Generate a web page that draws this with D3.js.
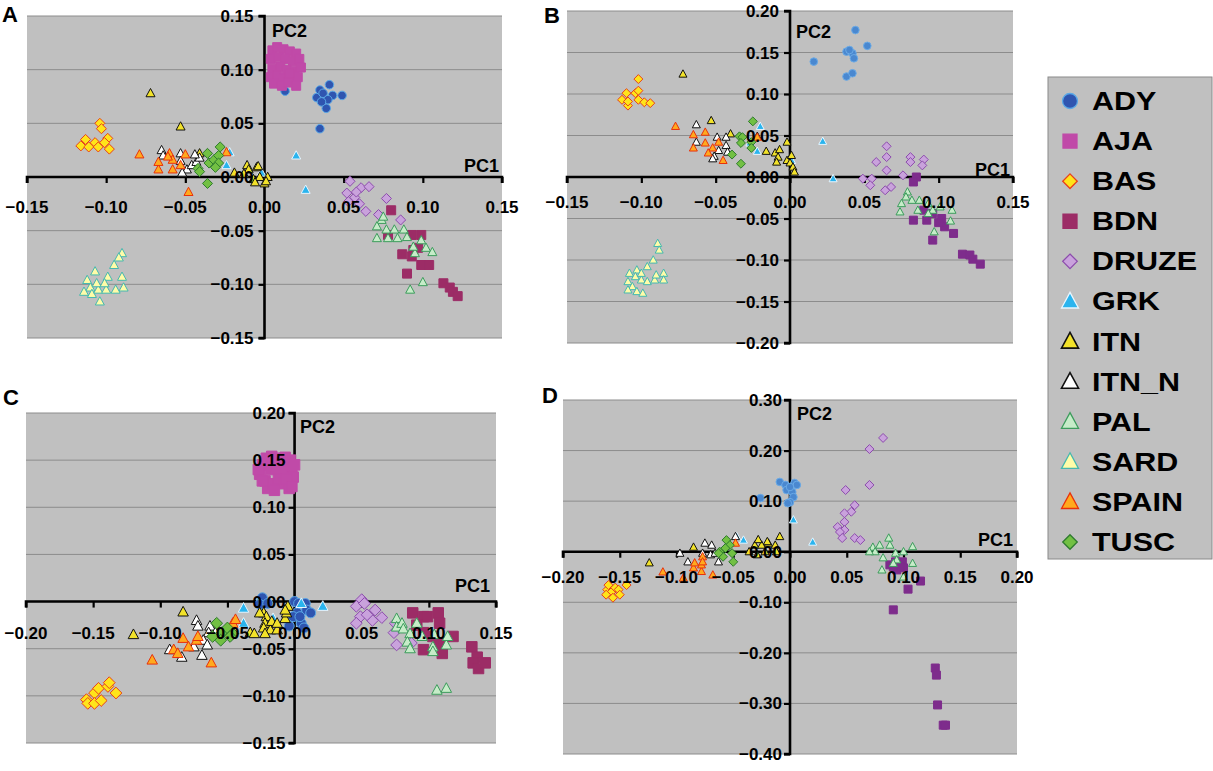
<!DOCTYPE html>
<html><head><meta charset="utf-8">
<script src="https://cdn.jsdelivr.net/npm/d3@7"></script>
<style>
html,body{margin:0;padding:0;background:#fff;}
svg{display:block;font-family:"Liberation Sans",Arial,Helvetica,sans-serif;}
</style></head>
<body>
<svg id="c" width="1213" height="771"></svg>
<script>
// ---------------- DATA ----------------
const categories = ["ADY","AJA","BAS","BDN","DRUZE","GRK","ITN","ITN_N","PAL","SARD","SPAIN","TUSC"];
const panels = ["A","B","C","D"];

const xTicksA = [-0.15,-0.10,-0.05,0.00,0.05,0.10,0.15];
const yTicksA = [-0.15,-0.10,-0.05,0.00,0.05,0.10,0.15];
const xTicksB = [-0.15,-0.10,-0.05,0.00,0.05,0.10,0.15];
const yTicksB = [-0.20,-0.15,-0.10,-0.05,0.00,0.05,0.10,0.15,0.20];
const xTicksC = [-0.20,-0.15,-0.10,-0.05,0.00,0.05,0.10,0.15];
const yTicksC = [-0.15,-0.10,-0.05,0.00,0.05,0.10,0.15,0.20];
const xTicksD = [-0.20,-0.15,-0.10,-0.05,0.00,0.05,0.10,0.15,0.20];
const yTicksD = [-0.40,-0.30,-0.20,-0.10,0.00,0.10,0.20,0.30];

// Panel A
const A_ADY = [[0.013,0.080],[0.033,0.074],[0.035,0.081],[0.037,0.078],[0.041,0.086],[0.043,0.076],[0.049,0.076],[0.040,0.072],[0.039,0.064],[0.035,0.045],[0.036,0.070]];
const A_AJA = [[0.005,0.118],[0.008,0.121],[0.012,0.119],[0.016,0.117],[0.020,0.115],[0.004,0.110],[0.009,0.112],[0.013,0.110],[0.018,0.108],[0.022,0.110],[0.005,0.101],[0.010,0.103],[0.014,0.100],[0.019,0.099],[0.023,0.102],[0.004,0.093],[0.008,0.095],[0.012,0.092],[0.017,0.090],[0.021,0.093],[0.006,0.087],[0.011,0.085],[0.015,0.088],[0.020,0.085],[0.016,0.096]];
const A_BAS = [[-0.104,0.050],[-0.103,0.045],[-0.113,0.035],[-0.116,0.029],[-0.111,0.028],[-0.107,0.032],[-0.105,0.028],[-0.099,0.036],[-0.101,0.032],[-0.098,0.026]];
const A_BDN = [[0.080,-0.031],[0.078,-0.054],[0.093,-0.054],[0.099,-0.054],[0.087,-0.072],[0.094,-0.068],[0.099,-0.082],[0.104,-0.082],[0.090,-0.090],[0.113,-0.099],[0.117,-0.103],[0.119,-0.107],[0.122,-0.111],[0.097,-0.066],[0.093,-0.074]];
const A_DRUZE = [[0.054,-0.004],[0.052,-0.015],[0.061,-0.010],[0.066,-0.009],[0.057,-0.019],[0.060,-0.025],[0.064,-0.032],[0.077,-0.020],[0.072,-0.035],[0.086,-0.040],[0.053,-0.023],[0.058,-0.014]];
const A_GRK = [[0.020,0.020],[0.026,-0.012],[-0.022,0.023],[-0.024,0.011],[-0.002,0.004]];
const A_ITN = [[-0.072,0.078],[-0.053,0.047],[-0.041,0.022],[-0.011,0.011],[-0.010,0.007],[-0.013,0.003],[-0.007,-0.002],[-0.005,0.009],[-0.003,0.000],[0.000,-0.006],[0.002,0.000],[-0.006,-0.005],[-0.019,0.004],[-0.004,0.010],[0.001,-0.004]];
const A_ITN_N = [[-0.065,0.025],[-0.064,0.020],[-0.053,0.022],[-0.053,0.015],[-0.049,0.007],[-0.046,0.011],[-0.043,0.014],[-0.041,0.018],[-0.052,0.004],[-0.044,0.021]];
const A_PAL = [[0.074,-0.040],[0.071,-0.046],[0.071,-0.057],[0.077,-0.049],[0.078,-0.057],[0.082,-0.049],[0.084,-0.057],[0.088,-0.049],[0.090,-0.056],[0.095,-0.071],[0.094,-0.065],[0.099,-0.059],[0.102,-0.066],[0.106,-0.070],[0.092,-0.105],[0.100,-0.098],[0.075,-0.037]];
const A_SARD = [[-0.090,-0.071],[-0.092,-0.075],[-0.095,-0.082],[-0.099,-0.093],[-0.107,-0.088],[-0.112,-0.096],[-0.110,-0.103],[-0.114,-0.107],[-0.109,-0.109],[-0.105,-0.105],[-0.104,-0.116],[-0.100,-0.105],[-0.094,-0.105],[-0.090,-0.093],[-0.089,-0.103],[-0.106,-0.099],[-0.101,-0.099]];
const A_SPAIN = [[-0.079,0.021],[-0.067,0.007],[-0.067,0.014],[-0.060,0.022],[-0.058,0.016],[-0.058,0.007],[-0.053,0.011],[-0.050,0.021],[-0.048,-0.014],[-0.024,0.023],[-0.061,0.019]];
const A_TUSC = [[-0.036,0.022],[-0.035,0.013],[-0.042,0.008],[-0.032,0.016],[-0.029,0.020],[-0.028,0.028],[-0.029,0.013],[-0.036,-0.006],[-0.041,0.005],[-0.031,0.009]];

// Panel B
const B_ADY = [[0.016,0.139],[0.044,0.177],[0.052,0.158],[0.038,0.151],[0.042,0.149],[0.043,0.143],[0.040,0.153],[0.038,0.121],[0.042,0.125]];
const B_AJA = [];
const B_BAS = [[-0.102,0.118],[-0.110,0.101],[-0.113,0.093],[-0.109,0.086],[-0.104,0.101],[-0.102,0.104],[-0.102,0.093],[-0.098,0.090],[-0.094,0.089],[-0.109,0.091]];
const B_BDN = [[0.085,0.000],[0.083,-0.006],[0.083,-0.052],[0.090,-0.040],[0.092,-0.052],[0.096,-0.044],[0.102,-0.050],[0.104,-0.060],[0.110,-0.068],[0.096,-0.076],[0.116,-0.093],[0.121,-0.094],[0.123,-0.099],[0.128,-0.105],[0.100,-0.055]];
const B_DRUZE = [[0.065,0.037],[0.058,0.018],[0.065,0.024],[0.081,0.024],[0.090,0.021],[0.089,0.014],[0.081,0.018],[0.065,0.008],[0.049,-0.002],[0.055,-0.002],[0.054,-0.010],[0.068,-0.012],[0.064,-0.016],[0.076,0.002]];
const B_GRK = [[-0.020,0.061],[-0.027,0.041],[-0.022,0.031],[0.001,0.020],[0.022,0.043],[0.029,-0.002]];
const B_ITN = [[-0.072,0.124],[-0.053,0.068],[-0.040,0.052],[-0.016,0.031],[-0.010,0.029],[-0.008,0.024],[-0.009,0.018],[-0.007,0.033],[-0.002,0.042],[-0.002,0.020],[0.000,0.017],[0.002,0.012],[0.003,0.006],[0.001,0.026],[-0.022,0.049]];
const B_ITN_N = [[-0.063,0.063],[-0.063,0.042],[-0.049,0.048],[-0.043,0.048],[-0.043,0.038],[-0.048,0.032],[-0.051,0.025],[-0.042,0.030],[-0.052,0.022]];
const B_PAL = [[0.079,-0.018],[0.078,-0.024],[0.075,-0.032],[0.082,-0.028],[0.074,-0.042],[0.086,-0.040],[0.087,-0.028],[0.093,-0.032],[0.096,-0.040],[0.101,-0.036],[0.109,-0.040],[0.108,-0.053],[0.097,-0.066],[0.093,-0.044]];
const B_SARD = [[-0.089,-0.080],[-0.088,-0.088],[-0.092,-0.100],[-0.096,-0.108],[-0.103,-0.112],[-0.108,-0.116],[-0.104,-0.120],[-0.109,-0.126],[-0.106,-0.132],[-0.109,-0.136],[-0.103,-0.138],[-0.099,-0.140],[-0.100,-0.124],[-0.096,-0.126],[-0.091,-0.124],[-0.090,-0.118],[-0.085,-0.116],[-0.085,-0.124],[-0.100,-0.116]];
const B_SPAIN = [[-0.077,0.061],[-0.065,0.051],[-0.065,0.035],[-0.057,0.054],[-0.057,0.041],[-0.052,0.035],[-0.055,0.029],[-0.048,0.042],[-0.045,0.020],[-0.022,0.048]];
const B_TUSC = [[-0.025,0.067],[-0.034,0.049],[-0.032,0.048],[-0.033,0.041],[-0.026,0.042],[-0.026,0.035],[-0.039,0.027],[-0.033,0.016]];

// Panel C
const C_ADY = [[-0.024,0.004],[-0.026,-0.003],[-0.020,-0.002],[0.000,0.000],[0.003,-0.002],[0.008,-0.002],[0.002,-0.012],[0.009,-0.009],[0.012,-0.012],[-0.001,-0.016],[0.005,-0.023],[0.007,-0.028],[-0.004,-0.026],[0.004,-0.016]];
const C_AJA = [[-0.026,0.135],[-0.024,0.145],[-0.021,0.152],[-0.017,0.154],[-0.012,0.152],[-0.007,0.153],[-0.003,0.150],[-0.022,0.128],[-0.018,0.140],[-0.014,0.143],[-0.010,0.140],[-0.005,0.138],[-0.002,0.140],[-0.020,0.120],[-0.016,0.125],[-0.012,0.130],[-0.008,0.125],[-0.004,0.120],[-0.001,0.132],[-0.024,0.128],[-0.006,0.130],[-0.015,0.118],[-0.027,0.140],[0.000,0.145],[-0.002,0.122]];
const C_BAS = [[-0.155,-0.104],[-0.154,-0.108],[-0.149,-0.097],[-0.146,-0.092],[-0.149,-0.108],[-0.144,-0.105],[-0.139,-0.090],[-0.138,-0.086],[-0.133,-0.097]];
const C_BDN = [[0.088,-0.012],[0.096,-0.016],[0.099,-0.016],[0.107,-0.012],[0.108,-0.023],[0.096,-0.033],[0.096,-0.051],[0.103,-0.037],[0.108,-0.044],[0.110,-0.055],[0.118,-0.037],[0.132,-0.048],[0.136,-0.059],[0.133,-0.065],[0.137,-0.071],[0.142,-0.065],[0.091,-0.025]];
const C_DRUZE = [[0.050,0.002],[0.046,-0.005],[0.052,-0.002],[0.060,-0.009],[0.049,-0.016],[0.058,-0.020],[0.065,-0.017],[0.046,-0.023],[0.054,-0.014],[0.075,-0.023],[0.074,-0.033],[0.076,-0.046],[0.087,-0.044]];
const C_GRK = [[-0.038,-0.007],[-0.038,-0.023],[-0.016,-0.018],[0.005,-0.002],[0.021,-0.005]];
const C_ITN = [[-0.083,-0.011],[-0.120,-0.035],[-0.033,-0.033],[-0.023,-0.012],[-0.021,-0.016],[-0.022,-0.023],[-0.023,-0.028],[-0.018,-0.030],[-0.017,-0.021],[-0.030,-0.034],[-0.013,-0.030],[-0.007,-0.018],[-0.006,-0.012],[-0.005,-0.005],[-0.022,-0.034],[-0.007,-0.009],[-0.026,-0.012],[-0.013,-0.023]];
const C_ITN_N = [[-0.073,-0.020],[-0.072,-0.026],[-0.063,-0.026],[-0.064,-0.033],[-0.068,-0.041],[-0.065,-0.046],[-0.069,-0.057],[-0.084,-0.059],[-0.093,-0.051],[-0.075,-0.048],[-0.059,-0.033]];
const C_PAL = [[0.076,-0.018],[0.076,-0.027],[0.080,-0.023],[0.081,-0.029],[0.086,-0.034],[0.091,-0.023],[0.084,-0.043],[0.086,-0.050],[0.095,-0.037],[0.103,-0.048],[0.104,-0.035],[0.113,-0.046],[0.106,-0.094],[0.113,-0.092],[0.114,-0.037],[0.103,-0.053]];
const C_SARD = [];
const C_SPAIN = [[-0.106,-0.062],[-0.062,-0.065],[-0.090,-0.051],[-0.087,-0.055],[-0.083,-0.039],[-0.079,-0.048],[-0.073,-0.041],[-0.072,-0.037],[-0.046,-0.023],[-0.044,-0.019]];
const C_TUSC = [[-0.058,-0.023],[-0.054,-0.033],[-0.061,-0.037],[-0.050,-0.028],[-0.046,-0.034],[-0.048,-0.037],[-0.055,-0.041]];

// Panel D
const D_ADY = [[-0.009,0.138],[-0.004,0.132],[0.004,0.136],[0.006,0.132],[-0.003,0.122],[0.002,0.118],[0.003,0.108],[0.000,0.098],[-0.002,0.096],[-0.026,0.106],[0.000,0.128]];
const D_AJA = [];
const D_BAS = [[-0.161,-0.075],[-0.160,-0.066],[-0.157,-0.079],[-0.156,-0.091],[-0.154,-0.071],[-0.151,-0.075],[-0.150,-0.085],[-0.144,-0.066],[-0.162,-0.085]];
const D_BDN = [[0.088,-0.026],[0.093,-0.020],[0.099,-0.020],[0.094,-0.036],[0.100,-0.032],[0.115,-0.058],[0.104,-0.074],[0.091,-0.115],[0.128,-0.230],[0.129,-0.244],[0.130,-0.303],[0.135,-0.343],[0.137,-0.343],[0.097,-0.030],[0.091,-0.030]];
const D_DRUZE = [[0.082,0.225],[0.070,0.203],[0.070,0.132],[0.049,0.122],[0.057,0.092],[0.054,0.079],[0.048,0.076],[0.048,0.059],[0.042,0.049],[0.048,0.043],[0.044,0.039],[0.046,0.027],[0.057,0.027],[0.062,0.023]];
const D_GRK = [[0.003,0.063],[0.020,0.019],[-0.047,0.030],[-0.041,0.023]];
const D_ITN = [[-0.124,-0.022],[-0.085,0.009],[-0.036,0.000],[-0.031,0.013],[-0.029,-0.006],[-0.025,0.013],[-0.022,0.000],[-0.019,0.017],[-0.013,0.013],[-0.012,0.000],[-0.009,0.030],[-0.028,0.024],[-0.020,0.020]];
const D_ITN_N = [[-0.097,-0.003],[-0.090,-0.020],[-0.075,0.017],[-0.069,0.013],[-0.077,-0.003],[-0.070,-0.006],[-0.066,-0.003],[-0.063,-0.020],[-0.048,0.030]];
const D_PAL = [[0.073,0.009],[0.075,0.000],[0.079,0.013],[0.087,0.027],[0.088,0.013],[0.093,-0.003],[0.100,0.000],[0.108,0.010],[0.094,-0.016],[0.082,-0.012],[0.081,-0.036],[0.091,-0.023],[0.108,-0.023],[0.070,0.000],[0.100,-0.050]];
const D_SARD = [];
const D_SPAIN = [[-0.085,-0.032],[-0.078,-0.039],[-0.078,-0.026],[-0.077,-0.010],[-0.077,-0.020],[-0.068,-0.046],[-0.084,-0.022],[-0.048,0.017],[-0.112,-0.040],[-0.094,-0.052]];
const D_TUSC = [[-0.056,0.023],[-0.053,0.013],[-0.062,0.000],[-0.059,-0.010],[-0.051,-0.003],[-0.050,-0.020],[-0.057,0.007],[-0.063,-0.003]];

// ---------------- STYLE ----------------
const styles = {
  ADY:  {shape:"circle",   fill:"#2f55b0", stroke:"#5aa8e6"},
  AJA:  {shape:"square",   fill:"#c04aa8", stroke:"#c04aa8"},
  BAS:  {shape:"diamond",  fill:"#ffe41a", stroke:"#e8401a"},
  BDN:  {shape:"square",   fill:"#9c2c66", stroke:"#9c2c66"},
  DRUZE:{shape:"diamond",  fill:"#c9a2dc", stroke:"#8c4cac"},
  GRK:  {shape:"triangle", fill:"#2ab4ee", stroke:"#e8f6ff"},
  ITN:  {shape:"triangle", fill:"#f2e22a", stroke:"#111111"},
  ITN_N:{shape:"triangle", fill:"#ffffff", stroke:"#111111"},
  PAL:  {shape:"triangle", fill:"#c6ecc8", stroke:"#3c9c5c"},
  SARD: {shape:"triangle", fill:"#fffca8", stroke:"#44b8b0"},
  SPAIN:{shape:"triangle", fill:"#ffaa1e", stroke:"#e8300c"},
  TUSC: {shape:"diamond",  fill:"#72c043", stroke:"#2e7a2e"}
};
const panelOverrides = {
  B:{ADY:{fill:"#4a88d0", stroke:"#6aaae6"}, BDN:{fill:"#7e2c8c", stroke:"#7e2c8c"}},
  D:{ADY:{fill:"#4a88d0", stroke:"#6aaae6"}, BDN:{fill:"#7e2c8c", stroke:"#7e2c8c"}}
};

function shapePath(shape, s){
  const h = s/2;
  if(shape==="circle"){
    return `M${h},0A${h},${h},0,1,1,${-h},0A${h},${h},0,1,1,${h},0Z`;
  }
  if(shape==="square") return `M${-h},${-h}H${h}V${h}H${-h}Z`;
  if(shape==="diamond"){ const d=h*1.12; return `M0,${-d}L${d},0L0,${d}L${-d},0Z`; }
  const th = s*0.92;
  return `M0,${-th*0.58}L${h},${th*0.42}L${-h},${th*0.42}Z`;
}

const dataSets = {
  A:{ADY:A_ADY,AJA:A_AJA,BAS:A_BAS,BDN:A_BDN,DRUZE:A_DRUZE,GRK:A_GRK,ITN:A_ITN,ITN_N:A_ITN_N,PAL:A_PAL,SARD:A_SARD,SPAIN:A_SPAIN,TUSC:A_TUSC},
  B:{ADY:B_ADY,AJA:B_AJA,BAS:B_BAS,BDN:B_BDN,DRUZE:B_DRUZE,GRK:B_GRK,ITN:B_ITN,ITN_N:B_ITN_N,PAL:B_PAL,SARD:B_SARD,SPAIN:B_SPAIN,TUSC:B_TUSC},
  C:{ADY:C_ADY,AJA:C_AJA,BAS:C_BAS,BDN:C_BDN,DRUZE:C_DRUZE,GRK:C_GRK,ITN:C_ITN,ITN_N:C_ITN_N,PAL:C_PAL,SARD:C_SARD,SPAIN:C_SPAIN,TUSC:C_TUSC},
  D:{ADY:D_ADY,AJA:D_AJA,BAS:D_BAS,BDN:D_BDN,DRUZE:D_DRUZE,GRK:D_GRK,ITN:D_ITN,ITN_N:D_ITN_N,PAL:D_PAL,SARD:D_SARD,SPAIN:D_SPAIN,TUSC:D_TUSC}
};

const layout = {
  A:{x0:27,x1:502,y0:16,y1:338,xd:[-0.15,0.15],yd:[-0.15,0.15],xt:xTicksA,yt:yTicksA,xlab:36,ylab:11,ms:9,
     letter:[2,22],pc2:[272,37],pc1:[499,172]},
  B:{x0:567,x1:1013,y0:11,y1:343,xd:[-0.15,0.15],yd:[-0.20,0.20],xt:xTicksB,yt:yTicksB,xlab:31,ylab:11,ms:8,
     letter:[544,23],pc2:[796,38],pc1:[1010,176]},
  C:{x0:26,x1:496,y0:413,y1:743,xd:[-0.20,0.15],yd:[-0.15,0.20],xt:xTicksC,yt:yTicksC,xlab:37,ylab:9,ms:10.5,
     letter:[3,405],pc2:[300,433],pc1:[490,592]},
  D:{x0:563,x1:1017,y0:400,y1:754,xd:[-0.20,0.20],yd:[-0.40,0.30],xt:xTicksD,yt:yTicksD,xlab:31,ylab:8,ms:8,
     letter:[542,403],pc2:[797,420],pc1:[1013,546]}
};

const svg = d3.select("#c");
const fmt = d3.format(".2f");
const fontTick = "bold 17px 'Liberation Sans', Arial, sans-serif";

panels.forEach(p=>{
  const L = layout[p];
  const x = d3.scaleLinear().domain(L.xd).range([L.x0,L.x1]);
  const y = d3.scaleLinear().domain(L.yd).range([L.y1,L.y0]);
  const g = svg.append("g");
  g.append("rect").attr("x",L.x0).attr("y",L.y0).attr("width",L.x1-L.x0).attr("height",L.y1-L.y0)
    .attr("fill","#c0c0c0");
  g.selectAll("line.grid").data(L.yt.filter(v=>Math.abs(v)>1e-9)).join("line")
    .attr("x1",L.x0).attr("x2",L.x1).attr("y1",d=>y(d)).attr("y2",d=>y(d))
    .attr("stroke","#8c8c8c").attr("stroke-width",1);
  const xAxis = d3.axisBottom(x).tickValues(L.xt).tickSize(6).tickFormat("");
  const yAxis = d3.axisLeft(y).tickValues(L.yt).tickSize(6).tickFormat("");
  const ga = g.append("g").attr("transform",`translate(0,${y(0)})`).call(xAxis);
  const gb = g.append("g").attr("transform",`translate(${x(0)},0)`).call(yAxis);
  [ga,gb].forEach(a=>{
    a.select(".domain").attr("stroke","#000").attr("stroke-width",2.6);
    a.selectAll(".tick line").attr("stroke","#000").attr("stroke-width",2.2);
  });
  ga.select(".domain").attr("d",`M${L.x0},6V0H${L.x1}V6`);
  gb.select(".domain").attr("d",`M-6,${L.y1}H0V${L.y0}H-6`);

  const ov = panelOverrides[p]||{};
  categories.forEach(cat=>{
    const st = Object.assign({}, styles[cat], ov[cat]||{});
    const pts = dataSets[p][cat];
    g.append("g").selectAll("path").data(pts).join("path")
      .attr("d",shapePath(st.shape, st.shape==="circle"?L.ms*0.95:L.ms))
      .attr("transform",d=>`translate(${x(d[0])},${y(d[1])})`)
      .attr("fill",st.fill).attr("stroke",st.stroke).attr("stroke-width",1);
  });

  g.selectAll("text.xl").data(L.xt).join("text")
    .attr("x",d=>x(d)).attr("y",y(0)+L.xlab).attr("text-anchor","middle")
    .style("font",fontTick).attr("fill","#000").text(d=>fmt(d));
  g.selectAll("text.yl").data(L.yt).join("text")
    .attr("x",x(0)-L.ylab).attr("y",d=>y(d)+6).attr("text-anchor","end")
    .style("font",fontTick).attr("fill","#000").text(d=>fmt(d));

  g.append("text").attr("x",L.pc2[0]).attr("y",L.pc2[1]).style("font","bold 18px 'Liberation Sans', Arial, sans-serif").text("PC2");
  g.append("text").attr("x",L.pc1[0]).attr("y",L.pc1[1]).attr("text-anchor","end").style("font","bold 18px 'Liberation Sans', Arial, sans-serif").text("PC1");
  g.append("text").attr("x",L.letter[0]).attr("y",L.letter[1]).style("font","bold 22px 'Liberation Sans', Arial, sans-serif").text(p);
});

const lg = svg.append("g");
lg.append("rect").attr("x",1048).attr("y",77).attr("width",164).attr("height",482)
  .attr("fill","#c0c0c0").attr("stroke","#8a8a8a").attr("stroke-width",1);
const ly = d3.scalePoint().domain(categories).range([101,542]);
categories.forEach(cat=>{
  const st = styles[cat];
  const size = st.shape==="circle"?15:st.shape==="square"?14:st.shape==="diamond"?13:17;
  lg.append("path").attr("d",shapePath(st.shape,size))
    .attr("transform",`translate(1070,${ly(cat)})`)
    .attr("fill",st.fill).attr("stroke",st.stroke).attr("stroke-width",cat==="ITN_N"||cat==="ITN"?1.6:1.3);
  lg.append("text").attr("transform",`translate(1092,${ly(cat)+9}) scale(1.22,1)`)
    .style("font","bold 25px 'Liberation Sans', Arial, sans-serif").attr("fill","#000").text(cat);
});
</script>
</body></html>
